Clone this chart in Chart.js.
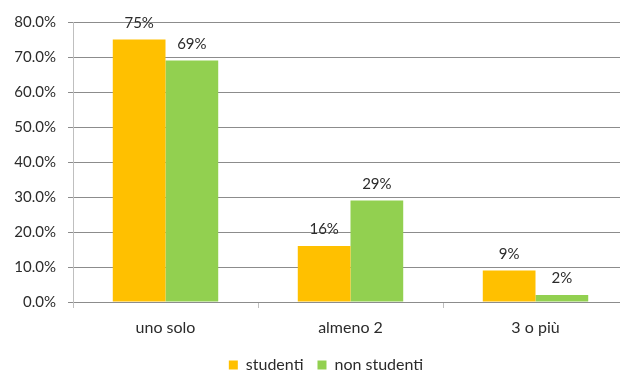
<!DOCTYPE html>
<html>
<head>
<meta charset="utf-8">
<script src="https://cdn.jsdelivr.net/npm/chart.js@4/dist/chart.umd.min.js"></script>
<style>
  html, body { margin: 0; padding: 0; background: #fff; overflow: hidden; }
  #wrap { width: 630px; height: 371px; }
</style>
</head>
<body>
<div id="wrap"><canvas id="chart" width="630" height="371"></canvas></div>
<script>
const categories = ['uno solo', 'almeno 2', '3 o più'];
const studenti = [75, 16, 9];
const nonStudenti = [69, 29, 2];
const yMin = 0;
const yMax = 80;
const yStep = 10;

const FONT = 'Lato, "Open Sans", sans-serif';
const TEXT = '#2b2b2b';

// draws the "75%" style labels above each bar
const barLabels = {
    id: 'barLabels',
    afterDatasetsDraw(chart) {
        const ctx = chart.ctx;
        ctx.save();
        ctx.font = '15px ' + FONT;
        ctx.fillStyle = TEXT;
        ctx.textAlign = 'center';
        ctx.textBaseline = 'alphabetic';
        chart.data.datasets.forEach((ds, i) => {
            chart.getDatasetMeta(i).data.forEach((bar, j) => {
                ctx.fillText(ds.data[j] + '%', bar.x, bar.y - 12);
            });
        });
        ctx.restore();
    }
};

// the legend in the original sits a bit right of the canvas centre
const legendShift = {
    id: 'legendShift',
    afterLayout(chart) {
        chart.legend.left += 12;
        chart.legend.right += 12;
    }
};

new Chart(document.getElementById('chart'), {
    type: 'bar',
    data: {
        labels: categories,
        datasets: [
            { label: 'studenti', data: studenti, backgroundColor: '#FFC000' },
            { label: 'non studenti', data: nonStudenti, backgroundColor: '#92D050' }
        ]
    },
    options: {
        responsive: false,
        animation: false,
        categoryPercentage: 0.57,
        barPercentage: 1.0,
        layout: { padding: { top: 22, right: 2, left: 0, bottom: -12 } },
        scales: {
            x: {
                grid: { offset: true, drawOnChartArea: false, tickLength: 6, color: '#bfbfbf' },
                border: { color: '#8c8c8c' },
                ticks: { color: TEXT, font: { family: FONT, size: 16 }, padding: 10 },
                afterFit(scale) { scale.height = 41; }
            },
            y: {
                min: yMin,
                max: yMax,
                ticks: {
                    stepSize: yStep,
                    color: TEXT,
                    font: { family: FONT, size: 15 },
                    padding: 12,
                    callback: v => v.toFixed(1) + '%'
                },
                grid: { color: '#8c8c8c', tickColor: '#8c8c8c', tickLength: 5 },
                border: { color: '#bfbfbf' },
                afterFit(scale) { scale.width = 73; }
            }
        },
        plugins: {
            legend: {
                position: 'bottom',
                labels: {
                    boxWidth: 9,
                    boxHeight: 9,
                    padding: 14,
                    color: TEXT,
                    font: { family: FONT, size: 16 }
                }
            },
            tooltip: { enabled: false }
        }
    },
    plugins: [barLabels, legendShift]
});
</script>
</body>
</html>
